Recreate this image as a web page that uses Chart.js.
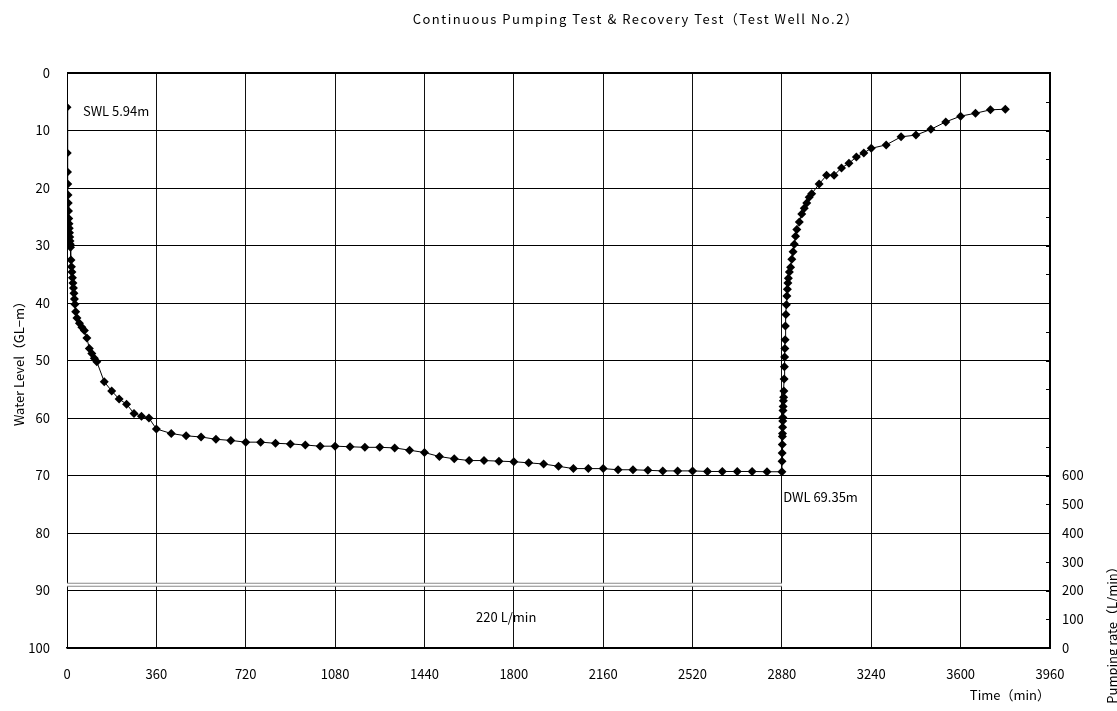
<!DOCTYPE html>
<html>
<head>
<meta charset="utf-8">
<script src="https://cdn.jsdelivr.net/npm/chart.js@4.4.1/dist/chart.umd.min.js"></script>
<style>
  html, body { margin: 0; padding: 0; background: #fff; }
  #wrap { width: 1117px; height: 711px; }
</style>
</head>
<body>
<div id="wrap"><canvas id="testChart"></canvas></div>
<script>
// Pumping phase: elapsed time (min) and water level (GL-m)
const pumpTime = [0, 1, 2, 3, 4, 5, 6, 7, 8, 9, 10, 11, 12, 13, 14, 16, 18, 20, 22, 24, 26, 28, 30, 32, 35, 40, 50, 60, 70, 80, 90, 100, 110, 120,
  150, 180, 210, 240, 270, 300, 330, 360, 420, 480, 540, 600, 660, 720, 780, 840, 900, 960, 1020, 1080, 1140, 1200, 1260, 1320,
  1380, 1440, 1500, 1560, 1620, 1680, 1740, 1800, 1860, 1920, 1980, 2040, 2100, 2160, 2220, 2280, 2340, 2400, 2460, 2520,
  2580, 2640, 2700, 2760, 2820, 2880];
const pumpLevel = [5.94, 13.9, 17.2, 19.3, 21.2, 22.6, 24.0, 25.3, 26.2, 27.0, 27.8, 28.5, 29.2, 29.8, 30.3, 32.5, 33.7, 34.6, 35.6, 36.5, 37.4, 38.3, 39.3, 40.2, 41.5, 42.6, 43.5, 44.2, 44.8, 46.1, 47.9, 48.8, 49.6, 50.2,
  53.7, 55.3, 56.7, 57.6, 59.2, 59.7, 60.0, 61.9, 62.7, 63.1, 63.3, 63.7, 63.9, 64.2, 64.2, 64.4, 64.5, 64.7, 64.9, 64.9, 65.0, 65.1, 65.1, 65.2,
  65.6, 66.0, 66.7, 67.1, 67.4, 67.4, 67.5, 67.6, 67.8, 68.0, 68.4, 68.8, 68.8, 68.8, 69.0, 69.0, 69.1, 69.2, 69.2, 69.2,
  69.3, 69.3, 69.3, 69.3, 69.35, 69.35];

// Recovery phase (pump stopped at 2880 min)
const recoveryTime = [2880.5, 2881, 2881.5, 2882, 2882.5, 2883, 2883.5, 2884, 2884.5, 2885, 2886, 2887, 2888, 2889, 2890, 2891, 2892, 2893, 2894,
  2896, 2898, 2900, 2902, 2904, 2906, 2910, 2915, 2920, 2925, 2930, 2935, 2940, 2950, 2960, 2970, 2980, 2990, 3000,
  3030, 3060, 3090, 3120, 3150, 3180, 3210, 3240, 3300, 3360, 3420, 3480, 3540, 3600, 3660, 3720, 3780];
const recoveryLevel = [67.5, 66.1, 64.6, 63.2, 62.7, 61.6, 60.5, 59.9, 58.7, 58.0, 57.0, 56.4, 55.3, 53.2, 51.1, 49.4, 47.9, 46.4, 44.0,
  42.0, 40.3, 38.8, 37.6, 36.5, 35.7, 34.6, 33.8, 32.4, 31.1, 29.8, 28.4, 27.2, 25.9, 24.5, 23.5, 22.6, 21.6, 21.0,
  19.3, 17.8, 17.8, 16.5, 15.7, 14.6, 13.9, 13.1, 12.5, 11.1, 10.8, 9.8, 8.5, 7.5, 7.0, 6.4, 6.3];

// Pumping rate (L/min)
const rateTime = [0, 2880];
const rateValue = [220, 220];

const levelTicks = { min: 0, max: 100, step: 10 };
const timeTicks = { min: 0, max: 3960, step: 360 };
const rateTicks = { min: 0, max: 2000, step: 100, lastLabel: 600 };

const FONT = "'Noto Sans CJK JP', 'Noto Sans', sans-serif";

const levelPoints = pumpTime.map((t, i) => ({ x: t, y: pumpLevel[i] }))
  .concat(recoveryTime.map((t, i) => ({ x: t, y: recoveryLevel[i] })));
const ratePoints = rateTime.map((t, i) => ({ x: t, y: rateValue[i] }));

// frame, right-axis inner ticks and free text
const overlay = {
  id: "overlay",
  beforeDatasetsDraw(chart) {
    const { ctx, chartArea: a } = chart;
    const y1 = chart.scales.y1;
    ctx.save();
    ctx.strokeStyle = "#000";
    ctx.lineWidth = 2;
    ctx.beginPath();
    ctx.moveTo(a.left, a.top);
    ctx.lineTo(a.right, a.top);
    ctx.lineTo(a.right, a.bottom);
    ctx.stroke();
    ctx.lineWidth = 1;
    for (let v = rateTicks.step; v < rateTicks.max; v += rateTicks.step) {
      const py = Math.round(y1.getPixelForValue(v)) + 0.5;
      ctx.beginPath();
      ctx.moveTo(a.right - 4, py);
      ctx.lineTo(a.right, py);
      ctx.stroke();
    }
    ctx.restore();
  },
  afterDraw(chart) {
    const { ctx } = chart;
    const x = chart.scales.x, y = chart.scales.y, y1 = chart.scales.y1;
    ctx.save();
    ctx.fillStyle = "#000";
    ctx.textBaseline = "middle";
    ctx.textAlign = "left";
    ctx.font = "13px " + FONT;
    ctx.fillText("SWL 5.94m", x.getPixelForValue(64), y.getPixelForValue(6.6));
    ctx.fillText("DWL 69.35m", x.getPixelForValue(2885), y.getPixelForValue(73.8));
    ctx.fillText("220 L/min", x.getPixelForValue(1648), y1.getPixelForValue(108));
    ctx.font = "13px " + FONT;
    ctx.textAlign = "center";
    ctx.letterSpacing = "1.5px";
    ctx.fillText("Continuous Pumping Test & Recovery Test（Test Well No.2）", 636, 19);
    ctx.letterSpacing = "0px";
    ctx.translate(1112, 632);
    ctx.rotate(-Math.PI / 2);
    ctx.font = "13px " + FONT;
    ctx.fillText("Pumping rate（L/min）", 0, 0);
    ctx.restore();
  }
};

new Chart(document.getElementById("testChart"), {
  type: "line",
  data: {
    datasets: [
      {
        label: "Water level",
        data: levelPoints,
        yAxisID: "y",
        borderColor: "#000",
        backgroundColor: "#000",
        borderWidth: 1,
        pointStyle: "rectRot",
        pointRadius: 4.5,
        pointBorderWidth: 0,
        tension: 0
      },
      {
        label: "Pumping rate",
        data: ratePoints,
        yAxisID: "y1",
        borderColor: "#8a8a8a",
        borderWidth: 4,
        pointRadius: 0,
        order: 3
      },
      {
        label: "Pumping rate inner",
        data: ratePoints,
        yAxisID: "y1",
        borderColor: "#fff",
        borderWidth: 2,
        pointRadius: 0,
        order: 2
      }
    ]
  },
  options: {
    responsive: true,
    maintainAspectRatio: false,
    animation: false,
    layout: { padding: { top: 73, left: 0, right: 0, bottom: 0 } },
    plugins: {
      legend: { display: false },
      tooltip: { enabled: false }
    },
    scales: {
      x: {
        type: "linear",
        min: timeTicks.min,
        max: timeTicks.max,
        ticks: { stepSize: timeTicks.step, color: "#000", padding: 18, maxRotation: 0, font: { family: FONT, size: 13 },
          callback: (v) => String(v) },
        grid: { color: "#111", lineWidth: 1, drawTicks: false },
        border: { color: "#000", width: 1.5 },
        title: { display: true, text: "Time（min）", align: "end", color: "#000", padding: { top: 0, bottom: 8 }, font: { family: FONT, size: 13 } },
        afterFit(scale) { scale.height = 63; }
      },
      y: {
        position: "left",
        reverse: true,
        min: levelTicks.min,
        max: levelTicks.max,
        ticks: { stepSize: levelTicks.step, color: "#000", padding: 17, font: { family: FONT, size: 13 } },
        grid: { color: "#000", lineWidth: 1, drawTicks: false },
        border: { color: "#000", width: 1 },
        title: { display: true, text: "Water Level（GL−m）", color: "#000", padding: { top: 11, bottom: 0 }, font: { family: FONT, size: 13 } },
        afterFit(scale) { scale.width = 67; }
      },
      y1: {
        position: "right",
        min: rateTicks.min,
        max: rateTicks.max,
        ticks: {
          stepSize: rateTicks.step,
          color: "#000",
          padding: 12,
          font: { family: FONT, size: 13 },
          callback: (v) => (v <= rateTicks.lastLabel && v % 100 === 0 ? String(v) : "")
        },
        grid: { drawOnChartArea: false, drawTicks: false },
        border: { color: "#000", width: 2 },
        afterFit(scale) { scale.width = 67; }
      }
    }
  },
  plugins: [overlay]
});
</script>
</body>
</html>
